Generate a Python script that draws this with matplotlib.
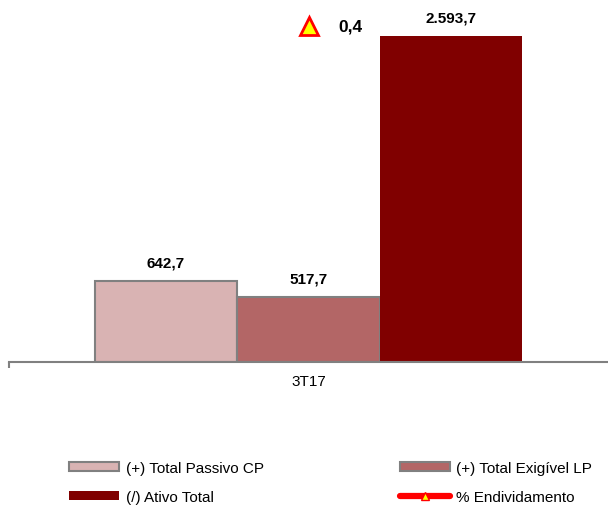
import matplotlib.pyplot as plt
from matplotlib.lines import Line2D
from matplotlib.patches import Patch

plt.rcParams['font.family'] = ['Liberation Sans', 'DejaVu Sans']

period = "3T17"
series = ["(+) Total Passivo CP", "(+) Total Exigível LP", "(/) Ativo Total"]
values = [642.7, 517.7, 2593.7]
labels = ["642,7", "517,7", "2.593,7"]
colors = ["#D9B3B3", "#B36666", "#800000"]
edges = ["#808080", "#808080", "none"]
endiv = 0.4
endiv_label = "0,4"

W, H = 608, 506
fig = plt.figure(figsize=(W / 100, H / 100), dpi=100)
base = 363
ax = fig.add_axes([8.5 / W, 1 - base / H, 600 / W, (base - 2) / H])

w = 0.2375
offsets = [-w, 0, w]
for off, v, c, e, lab in zip(offsets, values, colors, edges, labels):
    ax.bar(off, v, width=w, color=c, edgecolor=e, linewidth=1.5, zorder=2)
    ax.annotate(lab, (off, v), xytext=(0, 13.5), textcoords="offset points",
                ha="center", va="center", fontsize=11, fontweight="bold")

ax.set_xlim(-0.5, 0.5)
ax.set_ylim(0, (base - 2) / 0.1257)
for s in ["top", "right", "left"]:
    ax.spines[s].set_visible(False)
ax.spines["bottom"].set_color("#808080")
ax.spines["bottom"].set_linewidth(1.5)
ax.set_yticks([])
ax.set_xticks([-0.5])
ax.set_xticklabels([""])
ax.tick_params(axis="x", which="major", direction="out", length=4, width=1.5, color="#808080")
ax.set_xticks([0], minor=True)
ax.set_xticklabels([period], minor=True, fontsize=11)
ax.tick_params(axis="x", which="minor", length=0, pad=9)

# % endividamento on its own scale
ax2 = ax.twinx()
ax2.set_ylim(0, endiv * (base - 2) / (base - 27))
ax2.axis("off")
ax2.plot([0], [endiv], marker="^", markersize=12.5, markerfacecolor="#FFFF00",
         markeredgecolor="#FF0000", markeredgewidth=2, color="#FF0000", linewidth=4)
ax2.annotate(endiv_label, (0, endiv), xytext=(30.5, 0), textcoords="offset points",
             ha="center", va="center", fontsize=12.5, fontweight="bold")

handles = [
    Patch(facecolor=colors[0], edgecolor="#808080", linewidth=1.5),
    Patch(facecolor=colors[2], edgecolor="none"),
    Patch(facecolor=colors[1], edgecolor="#808080", linewidth=1.5),
    Line2D([], [], color="#FF0000", linewidth=4.5, solid_capstyle="round", marker="^",
           markersize=6, markerfacecolor="#FFFF00", markeredgecolor="#FF0000"),
]
names = [series[0], series[2], series[1], "% Endividamento"]
fig.legend(handles, names, ncol=2, loc="upper left", bbox_to_anchor=(69 / W, 1 - 462 / H),
           frameon=False, fontsize=11, handlelength=3.27, handleheight=0.55,
           handletextpad=0.43, columnspacing=8.93, labelspacing=0.98,
           borderpad=0, borderaxespad=0)

fig.savefig("out.png", dpi=100)
